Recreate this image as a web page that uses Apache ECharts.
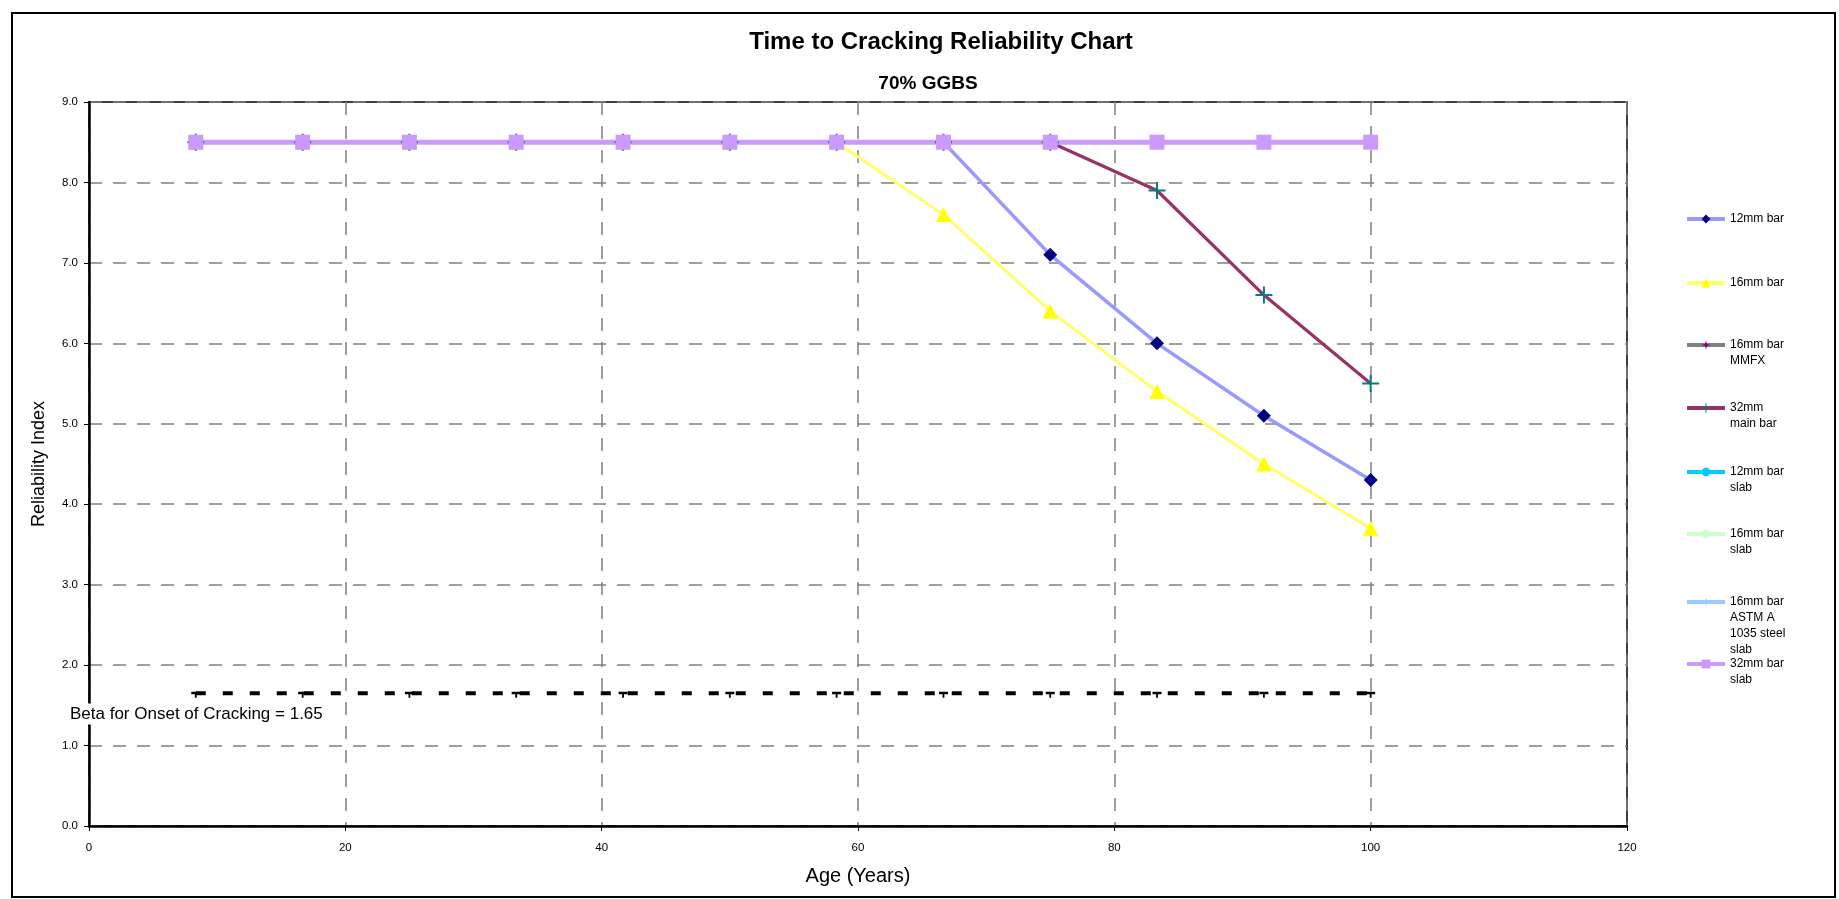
<!DOCTYPE html>
<html>
<head>
<meta charset="utf-8">
<script src="https://cdn.jsdelivr.net/npm/echarts@6/dist/echarts.min.js"></script>
<style>
  html, body { margin: 0; padding: 0; background: #fff; }
  #chart { width: 1839px; height: 899px; }
</style>
</head>
<body>
<div id="chart"></div>
<script>
// ages (years) at which reliability was evaluated
var ages = [8.33, 16.67, 25, 33.33, 41.67, 50, 58.33, 66.67, 75, 83.33, 91.67, 100];

var bar12 = [8.5, 8.5, 8.5, 8.5, 8.5, 8.5, 8.5, 8.5, 7.1, 6.0, 5.1, 4.3];
var bar16 = [8.5, 8.5, 8.5, 8.5, 8.5, 8.5, 8.5, 7.6, 6.4, 5.4, 4.5, 3.7];
var bar16Mmfx = [8.5, 8.5, 8.5, 8.5, 8.5, 8.5, 8.5, 8.5, 8.5, 8.5, 8.5, 8.5];
var bar32Main = [8.5, 8.5, 8.5, 8.5, 8.5, 8.5, 8.5, 8.5, 8.5, 7.9, 6.6, 5.5];
var slab12 = [8.5, 8.5, 8.5, 8.5, 8.5, 8.5, 8.5, 8.5, 8.5, 8.5, 8.5, 8.5];
var slab16 = [8.5, 8.5, 8.5, 8.5, 8.5, 8.5, 8.5, 8.5, 8.5, 8.5, 8.5, 8.5];
var slab16Astm = [8.5, 8.5, 8.5, 8.5, 8.5, 8.5, 8.5, 8.5, 8.5, 8.5, 8.5, 8.5];
var slab32 = [8.5, 8.5, 8.5, 8.5, 8.5, 8.5, 8.5, 8.5, 8.5, 8.5, 8.5, 8.5];
var onsetBeta = [1.65, 1.65, 1.65, 1.65, 1.65, 1.65, 1.65, 1.65, 1.65, 1.65, 1.65, 1.65];

var seriesNames = ['12mm bar', '16mm bar', '16mm bar\nMMFX', '32mm\nmain bar',
  '12mm bar\nslab', '16mm bar\nslab', '16mm bar\nASTM A\n1035 steel\nslab', '32mm bar\nslab'];
var legendCenters = [219, 283, 345, 408, 472, 534, 602, 664];

var FONT = '"Liberation Sans", Arial, sans-serif';
var LEGEND_LH = 16;
var crossPath = 'path://M4.4,0h1.2v4.4h4.4v1.2h-4.4v4.4h-1.2v-4.4h-4.4v-1.2h4.4z';
var starPath = 'path://M5,0L6,4L10,5L6,6L5,10L4,6L0,5L4,4Z';

function pairs(vals) {
  return ages.map(function (a, i) { return [a, vals[i]]; });
}

function lineSeries(name, vals, lineColor, width, symbol, size, markColor) {
  return {
    name: name,
    type: 'line',
    data: pairs(vals),
    symbol: symbol,
    symbolSize: size,
    showSymbol: symbol !== 'none',
    lineStyle: { color: lineColor, width: width },
    itemStyle: { color: markColor || lineColor },
    animation: false
  };
}

var series = [
  lineSeries(seriesNames[0], bar12, '#9999ff', 3.5, 'diamond', 14, '#000080'),
  lineSeries(seriesNames[1], bar16, '#ffff66', 3, 'triangle', 15, '#ffff00'),
  lineSeries(seriesNames[2], bar16Mmfx, '#808080', 3, starPath, 12, '#800080'),
  lineSeries(seriesNames[3], bar32Main, '#993366', 3.2, crossPath, 17, '#008080'),
  lineSeries(seriesNames[4], slab12, '#00ccff', 3, 'none', 0),
  lineSeries(seriesNames[5], slab16, '#ccffcc', 3, 'circle', 12),
  lineSeries(seriesNames[6], slab16Astm, '#99ccff', 3, starPath, 12),
  lineSeries(seriesNames[7], slab32, '#cc99ff', 5, 'rect', 15),
  {
    name: 'Beta',
    type: 'line',
    data: pairs(onsetBeta),
    symbol: 'path://M0,0h10v2h-4v3h-2v-3h-4z',
    symbolSize: [9, 6],
    symbolOffset: [0, 1.5],
    lineStyle: { color: '#000', width: 4, type: [10, 17] },
    itemStyle: { color: '#000' },
    animation: false
  }
];

// one legend per entry so every icon sits level with the first line of its label
var legends = seriesNames.map(function (name, i) {
  var lines = name.split('\n').length;
  return {
    data: [name],
    orient: 'vertical',
    left: 1685,
    top: legendCenters[i] - (2 * lines - 1) * LEGEND_LH / 2,
    padding: 0,
    itemWidth: 38,
    itemHeight: 11,
    itemGap: 5,
    selectedMode: false,
    lineStyle: { width: 4 },
    formatter: function (n) {
      return new Array(lines).join('\n') + n;
    },
    textStyle: { fontFamily: FONT, fontSize: 12, color: '#000', lineHeight: LEGEND_LH }
  };
});

var chart = echarts.init(document.getElementById('chart'));
chart.setOption({
  backgroundColor: '#fff',
  animation: false,
  title: [
    {
      text: 'Time to Cracking Reliability Chart',
      left: 936, top: 25, textAlign: 'center',
      textStyle: { fontFamily: FONT, fontSize: 24, fontWeight: 'bold', color: '#000' }
    },
    {
      text: '70% GGBS',
      left: 923, top: 69, textAlign: 'center',
      textStyle: { fontFamily: FONT, fontSize: 19, fontWeight: 'bold', color: '#000' }
    }
  ],
  legend: legends,
  grid: {
    left: 89, right: 212, top: 102, bottom: 73,
    show: true, borderColor: '#000', borderWidth: 1.5, backgroundColor: '#fff'
  },
  xAxis: {
    type: 'value',
    min: 0, max: 120, interval: 20,
    name: 'Age (Years)',
    nameLocation: 'middle',
    nameGap: 40,
    nameTextStyle: { fontFamily: FONT, fontSize: 20, color: '#000' },
    axisLine: { lineStyle: { color: '#000', width: 2.5 } },
    axisTick: { lineStyle: { color: '#000' }, length: 5 },
    axisLabel: { fontFamily: FONT, fontSize: 11.5, color: '#000', margin: 16 },
    splitLine: { lineStyle: { color: '#808080', width: 1.5, type: [13, 11] } }
  },
  yAxis: {
    type: 'value',
    min: 0, max: 9, interval: 1,
    name: 'Reliability Index',
    nameLocation: 'middle',
    nameGap: 41,
    nameTextStyle: { fontFamily: FONT, fontSize: 18, color: '#000' },
    axisLine: { show: true, lineStyle: { color: '#000', width: 2.5 } },
    axisTick: { show: true, lineStyle: { color: '#000' }, length: 5 },
    axisLabel: {
      fontFamily: FONT, fontSize: 11.5, color: '#000', margin: 11,
      formatter: function (v) { return v.toFixed(1); }
    },
    splitLine: { lineStyle: { color: '#808080', width: 1.5, type: [13, 11] } }
  },
  series: series,
  graphic: [
    {
      type: 'rect',
      shape: { x: 12, y: 13, width: 1823, height: 884 },
      style: { fill: 'none', stroke: '#000', lineWidth: 2 },
      silent: true, z: 100
    },
    {
      type: 'text',
      x: 68, y: 714,
      style: {
        text: 'Beta for Onset of Cracking = 1.65',
        fontFamily: FONT, fontSize: 17, fill: '#000',
        verticalAlign: 'middle',
        backgroundColor: '#fff', padding: [2, 2]
      },
      z: 100
    }
  ]
});
</script>
</body>
</html>
